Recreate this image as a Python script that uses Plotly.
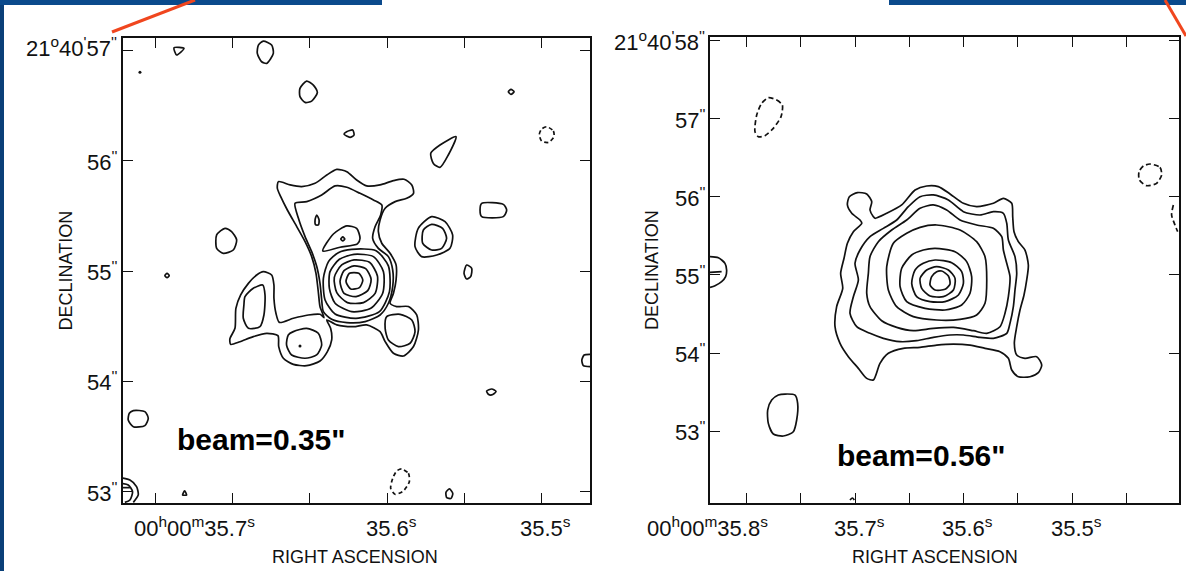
import plotly.graph_objects as go

W, H = 1186, 571

# ---------------- ticks / labels ----------------
L_RA_TICKS = [35.75, 35.70, 35.65, 35.60, 35.55, 35.50]
L_DEC_TICKS = [53, 54, 55, 56, 57]
R_RA_TICKS = [35.80, 35.75, 35.70, 35.65, 35.60, 35.55, 35.50, 35.45]
R_DEC_TICKS = [53, 54, 55, 56, 57, 58]

L_RA_LABEL_POS = [35.7, 35.6, 35.5]
L_RA_LABEL_TXT = ["00<sup>h</sup>00<sup>m</sup>35.7<sup>s</sup>", "35.6<sup>s</sup>", "35.5<sup>s</sup>"]
R_RA_LABEL_POS = [35.8, 35.7, 35.6, 35.5]
R_RA_LABEL_TXT = ["00<sup>h</sup>00<sup>m</sup>35.8<sup>s</sup>", "35.7<sup>s</sup>", "35.6<sup>s</sup>", "35.5<sup>s</sup>"]
L_DEC_LABEL_POS = [57, 56, 55, 54, 53]
L_DEC_LABEL_TXT = ["21<sup>o</sup>40<sup>'</sup>57<sup>''</sup>", "56<sup>''</sup>", "55<sup>''</sup>", "54<sup>''</sup>", "53<sup>''</sup>"]
R_DEC_LABEL_POS = [58, 57, 56, 55, 54, 53]
R_DEC_LABEL_TXT = ["21<sup>o</sup>40<sup>'</sup>58<sup>''</sup>", "57<sup>''</sup>", "56<sup>''</sup>", "55<sup>''</sup>", "54<sup>''</sup>", "53<sup>''</sup>"]

# ---------------- left map contours (RA s, Dec arcsec) ----------------
L_tri = [(35.7383, 57.021), (35.7318, 57.015), (35.7366, 56.955), (35.7383, 57.021)]
L_dot = [(35.7604, 56.798)]
L_o1 = [(35.6803, 57.081), (35.6749, 57.045), (35.6738, 56.970), (35.6781, 56.879), (35.6814, 56.894),
        (35.6842, 56.970), (35.6835, 57.045), (35.6803, 57.081)]
L_o2 = [(35.6522, 56.719), (35.6478, 56.683), (35.6452, 56.617), (35.6489, 56.538), (35.6532, 56.526),
        (35.6565, 56.578), (35.6565, 56.653), (35.6522, 56.719)]
L_o3 = [(35.6262, 56.261), (35.6223, 56.276), (35.6214, 56.231), (35.6240, 56.210), (35.6279, 56.238), (35.6262, 56.261)]
L_drop = [(35.5552, 56.216), (35.5656, 56.140), (35.5716, 56.065), (35.5699, 55.974), (35.5656, 55.938),
          (35.5602, 56.050), (35.5552, 56.216)]
L_tiny1 = [(35.5212, 56.623), (35.5195, 56.644), (35.5175, 56.623), (35.5195, 56.599), (35.5212, 56.623)]
L_o4 = [(35.4963, 56.306), (35.4920, 56.267), (35.4916, 56.216), (35.4952, 56.164), (35.4996, 56.176),
        (35.5011, 56.237), (35.4996, 56.285), (35.4963, 56.306)]
L_rect = [(35.5385, 55.612), (35.5245, 55.603), (35.5223, 55.552), (35.5245, 55.492), (35.5385, 55.492),
          (35.5396, 55.552), (35.5385, 55.612)]
L_ring_out = [(35.5710, 55.492), (35.5623, 55.446), (35.5574, 55.326), (35.5591, 55.205), (35.5677, 55.145),
              (35.5775, 55.130), (35.5818, 55.220), (35.5797, 55.386), (35.5710, 55.492)]
L_ring_in = [(35.5710, 55.422), (35.5639, 55.386), (35.5613, 55.296), (35.5645, 55.205), (35.5710, 55.190),
             (35.5768, 55.250), (35.5764, 55.371), (35.5710, 55.422)]
L_o5 = [(35.7052, 55.386), (35.7009, 55.356), (35.6976, 55.281), (35.6998, 55.190), (35.7063, 55.160),
        (35.7106, 55.205), (35.7106, 55.326), (35.7052, 55.386)]
L_o6 = [(35.5483, 55.054), (35.5450, 55.024), (35.5457, 54.949), (35.5483, 54.928), (35.5500, 54.979), (35.5483, 55.054)]
L_tiny2 = [(35.7442, 54.958), (35.7428, 54.979), (35.7414, 54.958), (35.7428, 54.940), (35.7442, 54.958)]

L_outer = [
    (35.6705, 55.809), (35.6629, 55.779), (35.6554, 55.764), (35.6467, 55.794), (35.6391, 55.869),
    (35.6326, 55.920), (35.6261, 55.899), (35.6197, 55.824), (35.6132, 55.770), (35.6045, 55.779),
    (35.5958, 55.818), (35.5889, 55.830), (35.5839, 55.779), (35.5828, 55.703), (35.5872, 55.658),
    (35.5947, 55.628), (35.6012, 55.568), (35.6045, 55.462), (35.6056, 55.356), (35.6034, 55.251),
    (35.5980, 55.160), (35.5941, 55.055), (35.5941, 54.919), (35.5958, 54.798), (35.5980, 54.708),
    (35.5937, 54.678), (35.5861, 54.678), (35.5807, 54.602), (35.5796, 54.466), (35.5828, 54.316),
    (35.5893, 54.231), (35.5958, 54.255), (35.6012, 54.361), (35.6045, 54.451), (35.6132, 54.512),
    (35.6218, 54.496), (35.6326, 54.512), (35.6391, 54.557),
    (35.6366, 54.481), (35.6359, 54.376), (35.6387, 54.270), (35.6435, 54.185), (35.6522, 54.143),
    (35.6608, 54.155), (35.6673, 54.210), (35.6703, 54.315), (35.6708, 54.415), (35.6781, 54.436),
    (35.6868, 54.406), (35.6955, 54.360), (35.7015, 54.336), (35.7020, 54.385), (35.6987, 54.481),
    (35.6981, 54.662), (35.6950, 54.783), (35.6900, 54.888), (35.6846, 54.964), (35.6803, 54.994),
    (35.6749, 54.964), (35.6734, 54.873), (35.6734, 54.753), (35.6721, 54.617), (35.6699, 54.535),
    (35.6608, 54.572), (35.6511, 54.602), (35.6435, 54.608), (35.6409, 54.578),
    (35.6435, 54.678), (35.6445, 54.798), (35.6461, 54.979), (35.6489, 55.130), (35.6532, 55.266),
    (35.6586, 55.402), (35.6647, 55.552), (35.6690, 55.673), (35.6712, 55.749), (35.6705, 55.809)]
L_inner = [
    (35.6597, 55.613), (35.6521, 55.628), (35.6424, 55.688), (35.6337, 55.770), (35.6261, 55.758),
    (35.6175, 55.703), (35.6088, 55.643), (35.6034, 55.598), (35.6041, 55.507), (35.6077, 55.402),
    (35.6093, 55.296), (35.6056, 55.205), (35.5991, 55.130), (35.5963, 55.009), (35.5963, 54.859),
    (35.5991, 54.708), (35.6045, 54.602), (35.6142, 54.542), (35.6261, 54.533), (35.6359, 54.563),
    (35.6413, 54.632), (35.6424, 54.738), (35.6435, 54.889), (35.6456, 55.040), (35.6489, 55.175),
    (35.6532, 55.311), (35.6575, 55.477), (35.6597, 55.613)]
L_tri2 = [(35.6417, 55.181), (35.6348, 55.335), (35.6261, 55.408), (35.6197, 55.386), (35.6175, 55.296),
          (35.6192, 55.245), (35.6305, 55.215), (35.6417, 55.181)]
L_tri2_in = [(35.6300, 55.290), (35.6287, 55.308), (35.6274, 55.290), (35.6287, 55.272), (35.6300, 55.290)]
L_tear = [(35.6456, 55.507), (35.6441, 55.462), (35.6445, 55.417), (35.6463, 55.417), (35.6467, 55.462), (35.6456, 55.507)]
L_pk1 = [(35.6244, 54.979), (35.6183, 54.979), (35.6157, 54.919), (35.6179, 54.850), (35.6235, 54.837),
         (35.6266, 54.904), (35.6244, 54.979)]
L_pk2 = [(35.6214, 55.046), (35.6138, 55.021), (35.6103, 54.925), (35.6125, 54.822), (35.6201, 54.768),
         (35.6279, 54.798), (35.6305, 54.904), (35.6279, 55.003), (35.6214, 55.046)]
L_pk3 = [(35.6214, 55.100), (35.6114, 55.079), (35.6062, 54.955), (35.6077, 54.798), (35.6153, 54.714),
         (35.6257, 54.714), (35.6326, 54.804), (35.6342, 54.943), (35.6294, 55.055), (35.6214, 55.100)]
L_pk4 = [(35.6214, 55.151), (35.6088, 55.130), (35.6023, 54.994), (35.6028, 54.798), (35.6105, 54.662),
         (35.6229, 54.632), (35.6337, 54.708), (35.6374, 54.843), (35.6370, 54.994), (35.6309, 55.106),
         (35.6214, 55.151)]
L_pk5 = [(35.6229, 55.196), (35.6071, 55.184), (35.5991, 55.046), (35.5984, 54.813), (35.6049, 54.632),
         (35.6201, 54.572), (35.6337, 54.611), (35.6402, 54.738), (35.6413, 54.934), (35.6380, 55.085),
         (35.6316, 55.166), (35.6229, 55.196)]
L_low_mid = [(35.6608, 54.451), (35.6522, 54.481), (35.6446, 54.436), (35.6424, 54.330), (35.6457, 54.240),
             (35.6532, 54.210), (35.6619, 54.240), (35.6652, 54.330), (35.6641, 54.421), (35.6608, 54.451)]
L_low_dot = [(35.6565, 54.321)]
L_left_in = [(35.6922, 54.768), (35.6868, 54.843), (35.6807, 54.873), (35.6792, 54.783), (35.6799, 54.602),
             (35.6825, 54.496), (35.6900, 54.481), (35.6933, 54.572), (35.6929, 54.692), (35.6922, 54.768)]
L_low_right = [(35.6002, 54.587), (35.5915, 54.608), (35.5839, 54.557), (35.5818, 54.451), (35.5850, 54.346),
               (35.5926, 54.316), (35.5991, 54.376), (35.6012, 54.481), (35.6002, 54.587)]
L_edgeC = [(35.4681, 54.246), (35.4720, 54.240), (35.4735, 54.194), (35.4725, 54.143), (35.4681, 54.134)]
L_o7 = [(35.7647, 53.736), (35.7572, 53.727), (35.7550, 53.667), (35.7572, 53.600), (35.7647, 53.591),
        (35.7680, 53.651), (35.7673, 53.712), (35.7647, 53.736)]
L_arc1 = [(35.7734, 53.129), (35.7669, 53.108), (35.7626, 53.048), (35.7615, 52.973), (35.7647, 52.906)]
L_arc2 = [(35.7734, 53.078), (35.7680, 53.063), (35.7652, 53.003), (35.7669, 52.927), (35.7702, 52.906)]
L_seg = [(35.7734, 53.039), (35.7669, 53.039)]
L_tiny3 = [(35.7327, 52.973), (35.7314, 53.009), (35.7301, 52.973), (35.7327, 52.973)]
L_dash1 = [(35.5905, 53.208), (35.5861, 53.169), (35.5855, 53.093), (35.5894, 53.009), (35.5948, 52.979),
           (35.5976, 53.033), (35.5963, 53.123), (35.5937, 53.190), (35.5905, 53.208)]
L_o8 = [(35.5595, 53.027), (35.5573, 52.988), (35.5584, 52.942), (35.5612, 52.948), (35.5617, 52.997), (35.5595, 53.027)]
L_o9 = [(35.5353, 53.914), (35.5320, 53.932), (35.5292, 53.908), (35.5320, 53.878), (35.5342, 53.884), (35.5353, 53.914)]

L_SOLID = [L_tri, L_o1, L_o2, L_o3, L_drop, L_tiny1, L_rect, L_ring_out, L_ring_in, L_o5, L_o6, L_tiny2,
           L_outer, L_inner, L_tri2, L_tri2_in, L_tear, L_pk1, L_pk2, L_pk3, L_pk4, L_pk5, L_low_mid,
           L_left_in, L_low_right, L_edgeC, L_o7, L_arc1, L_arc2, L_seg, L_tiny3, L_o8, L_o9]
L_DASHED = [L_o4, L_dash1]
L_DOTS = [L_dot, L_low_dot]

# ---------------- right map contours ----------------
R_dash1 = [(35.7798, 57.273), (35.7721, 57.243), (35.7669, 57.179), (35.7681, 57.030), (35.7752, 56.880),
           (35.7829, 56.786), (35.7890, 56.773), (35.7921, 56.838), (35.7905, 57.051), (35.7859, 57.201),
           (35.7798, 57.273)]
R_dash2 = [(35.4284, 56.423), (35.4192, 56.380), (35.4177, 56.282), (35.4223, 56.175), (35.4315, 56.145),
           (35.4382, 56.218), (35.4385, 56.325), (35.4345, 56.397), (35.4284, 56.423)]
R_dash3 = [(35.4069, 55.897), (35.4085, 55.769), (35.4054, 55.641), (35.4029, 55.555)]
R_edge = [(35.8335, 55.235), (35.8258, 55.222), (35.8197, 55.149), (35.8182, 55.064), (35.8191, 54.978),
          (35.8228, 54.914), (35.8289, 54.863), (35.8335, 54.841)]
R_edge_seg = [(35.8335, 55.034), (35.8228, 55.042)]
R_oval = [(35.7644, 53.474), (35.7552, 53.461), (35.7528, 53.354), (35.7537, 53.141), (35.7568, 52.991),
          (35.7660, 52.936), (35.7752, 52.961), (35.7798, 53.098), (35.7804, 53.269), (35.7767, 53.397),
          (35.7706, 53.461), (35.7644, 53.474)]
R_tiny = [(35.7046, 52.115), (35.7024, 52.141), (35.7006, 52.115)]
R_c1 = [
    (35.6831, 55.748), (35.6862, 55.833), (35.6846, 55.940), (35.6892, 56.039), (35.6978, 56.056),
    (35.7052, 56.004), (35.7070, 55.898), (35.7030, 55.791), (35.6954, 55.705), (35.6938, 55.663),
    (35.7015, 55.555), (35.7070, 55.406), (35.7101, 55.214), (35.7132, 55.021), (35.7113, 54.829),
    (35.7169, 54.594), (35.7184, 54.337), (35.7138, 54.124), (35.7061, 53.953), (35.6969, 53.803),
    (35.6892, 53.675), (35.6831, 53.654), (35.6770, 53.867), (35.6693, 53.996), (35.6555, 54.060),
    (35.6401, 54.072), (35.6248, 54.102), (35.6094, 54.115), (35.5941, 54.102), (35.5803, 54.060),
    (35.5665, 54.017), (35.5588, 53.932), (35.5557, 53.782), (35.5496, 53.696), (35.5389, 53.696),
    (35.5312, 53.748), (35.5281, 53.846), (35.5327, 53.953), (35.5435, 53.932), (35.5511, 53.974),
    (35.5533, 54.124), (35.5511, 54.337), (35.5481, 54.551), (35.5444, 54.744), (35.5419, 54.936),
    (35.5404, 55.128), (35.5435, 55.320), (35.5496, 55.427), (35.5536, 55.555), (35.5548, 55.748),
    (35.5557, 55.919), (35.5634, 55.983), (35.5726, 55.919), (35.5880, 55.876), (35.6002, 55.919),
    (35.6125, 56.039), (35.6233, 56.133), (35.6340, 56.141), (35.6447, 56.090), (35.6570, 55.898),
    (35.6708, 55.791), (35.6816, 55.727), (35.6831, 55.748)]
R_c2 = [
    (35.6279, 56.026), (35.6140, 55.962), (35.6002, 55.812), (35.5849, 55.769), (35.5726, 55.812),
    (35.5634, 55.791), (35.5603, 55.663), (35.5588, 55.449), (35.5527, 55.235), (35.5511, 55.021),
    (35.5527, 54.808), (35.5542, 54.594), (35.5573, 54.380), (35.5603, 54.252), (35.5726, 54.188),
    (35.5849, 54.201), (35.6002, 54.231), (35.6125, 54.231), (35.6279, 54.201), (35.6432, 54.158),
    (35.6585, 54.145), (35.6739, 54.188), (35.6862, 54.252), (35.6984, 54.337), (35.7046, 54.509),
    (35.7015, 54.722), (35.6969, 54.936), (35.7000, 55.150), (35.6954, 55.320), (35.6862, 55.491),
    (35.6739, 55.598), (35.6616, 55.705), (35.6509, 55.876), (35.6401, 56.004), (35.6279, 56.026)]
R_c3 = [
    (35.6279, 55.898), (35.6156, 55.833), (35.6033, 55.705), (35.5880, 55.641), (35.5726, 55.598),
    (35.5649, 55.491), (35.5634, 55.320), (35.5603, 55.150), (35.5573, 54.979), (35.5588, 54.722),
    (35.5619, 54.509), (35.5665, 54.337), (35.5787, 54.252), (35.5910, 54.286), (35.6094, 54.329),
    (35.6279, 54.316), (35.6463, 54.286), (35.6616, 54.329), (35.6754, 54.414), (35.6862, 54.594),
    (35.6892, 54.765), (35.6877, 55.021), (35.6862, 55.235), (35.6785, 55.427), (35.6662, 55.577),
    (35.6524, 55.705), (35.6401, 55.855), (35.6279, 55.898)]
R_c4 = [
    (35.6248, 55.641), (35.6033, 55.577), (35.5880, 55.427), (35.5803, 55.235), (35.5787, 54.936),
    (35.5803, 54.637), (35.5880, 54.487), (35.6033, 54.431), (35.6248, 54.423), (35.6463, 54.466),
    (35.6616, 54.594), (35.6693, 54.808), (35.6708, 55.107), (35.6647, 55.406), (35.6524, 55.534),
    (35.6401, 55.611), (35.6248, 55.641)]
R_c5 = [
    (35.6263, 55.342), (35.6079, 55.299), (35.5972, 55.171), (35.5926, 54.979), (35.5941, 54.765),
    (35.6018, 54.615), (35.6171, 54.551), (35.6355, 54.573), (35.6524, 54.658), (35.6585, 54.850),
    (35.6570, 55.086), (35.6478, 55.256), (35.6371, 55.320), (35.6263, 55.342)]
R_c6 = [
    (35.6263, 55.192), (35.6110, 55.158), (35.6018, 55.043), (35.6002, 54.893), (35.6048, 54.744),
    (35.6171, 54.658), (35.6309, 54.658), (35.6432, 54.722), (35.6478, 54.893), (35.6447, 55.064),
    (35.6371, 55.150), (35.6263, 55.192)]
R_c7 = [
    (35.6248, 55.107), (35.6140, 55.064), (35.6079, 54.957), (35.6094, 54.808), (35.6187, 54.722),
    (35.6309, 54.731), (35.6386, 54.829), (35.6401, 54.957), (35.6340, 55.064), (35.6248, 55.107)]
R_c8 = [
    (35.6202, 55.051), (35.6140, 54.987), (35.6125, 54.885), (35.6171, 54.816), (35.6263, 54.808),
    (35.6309, 54.872), (35.6294, 54.979), (35.6248, 55.043), (35.6202, 55.051)]

R_SOLID = [R_edge, R_edge_seg, R_oval, R_tiny, R_c1, R_c2, R_c3, R_c4, R_c5, R_c6, R_c7, R_c8]
R_DASHED = [R_dash1, R_dash2, R_dash3]

# ---------------- figure ----------------
fig = go.Figure()
INK = "#111111"


def add_lines(groups, xa, ya, dash):
    for pts in groups:
        fig.add_trace(go.Scatter(
            x=[p[0] for p in pts], y=[p[1] for p in pts], mode="lines",
            line=dict(color=INK, width=1.7, dash=dash, shape="spline", smoothing=0.7),
            xaxis=xa, yaxis=ya, hoverinfo="skip", showlegend=False))


add_lines(L_SOLID, "x", "y", "solid")
add_lines(L_DASHED, "x", "y", "4px,3px")
add_lines(R_SOLID, "x2", "y2", "solid")
add_lines(R_DASHED, "x2", "y2", "5px,3px")
for pts in L_DOTS:
    fig.add_trace(go.Scatter(x=[p[0] for p in pts], y=[p[1] for p in pts], mode="markers",
                             marker=dict(color=INK, size=3), xaxis="x", yaxis="y",
                             hoverinfo="skip", showlegend=False))

axis_common = dict(ticks="inside", ticklen=10, tickwidth=1.3, tickcolor=INK, showline=True,
                   linecolor=INK, linewidth=1.7, mirror="allticks", showgrid=False, zeroline=False,
                   showticklabels=False, fixedrange=True)

fig.update_layout(
    width=W, height=H, margin=dict(l=0, r=0, t=0, b=0),
    paper_bgcolor="white", plot_bgcolor="white",
    xaxis=dict(domain=[123 / W, 590 / W], range=[35.7714, 35.4682], tickvals=L_RA_TICKS, anchor="y", **axis_common),
    yaxis=dict(domain=[1 - 503 / H, 1 - 38 / H], range=[52.900, 57.109], tickvals=L_DEC_TICKS, anchor="x", **axis_common),
    xaxis2=dict(domain=[710 / W, 1179 / W], range=[35.8335, 35.4017], tickvals=R_RA_TICKS, anchor="y2", **axis_common),
    yaxis2=dict(domain=[1 - 503 / H, 1 - 37 / H], range=[52.077, 58.051], tickvals=R_DEC_TICKS, anchor="x2", **axis_common),
)

TICKFONT = dict(family="Liberation Sans Narrow, Liberation Sans, Arial, sans-serif", size=22, color=INK)
TITLEFONT = dict(family="Liberation Sans Narrow, Liberation Sans, Arial, sans-serif", size=18, color=INK)
BEAMFONT = dict(family="Liberation Sans, Arial, sans-serif", size=30, color="black")

ann = []
for v, t in zip(L_DEC_LABEL_POS, L_DEC_LABEL_TXT):
    ann.append(dict(x=0, xref="x domain", y=v, yref="y", text=t, showarrow=False, xanchor="right",
                    yanchor="middle", xshift=-4, yshift=3 if v == 57 else 0, font=TICKFONT))
for v, t in zip(R_DEC_LABEL_POS, R_DEC_LABEL_TXT):
    ann.append(dict(x=0, xref="x2 domain", y=v, yref="y2", text=t, showarrow=False, xanchor="right",
                    yanchor="middle", xshift=-3, font=TICKFONT))
for v, t in zip(L_RA_LABEL_POS, L_RA_LABEL_TXT):
    long = t.startswith("00")
    ann.append(dict(x=v, xref="x", y=0, yref="y domain", text=t, showarrow=False,
                    xanchor="right" if long else "center", xshift=24 if long else 4,
                    yanchor="top", yshift=-8, font=TICKFONT))
for v, t in zip(R_RA_LABEL_POS, R_RA_LABEL_TXT):
    long = t.startswith("00")
    ann.append(dict(x=v, xref="x2", y=0, yref="y2 domain", text=t, showarrow=False,
                    xanchor="right" if long else "center", xshift=24 if long else 4,
                    yanchor="top", yshift=-8, font=TICKFONT))

ann += [
    dict(x=0, xref="x domain", y=0.5, yref="y domain", text="DECLINATION", textangle=-90, showarrow=False,
         xanchor="center", yanchor="middle", xshift=-58, font=TITLEFONT),
    dict(x=0, xref="x2 domain", y=0.5, yref="y2 domain", text="DECLINATION", textangle=-90, showarrow=False,
         xanchor="center", yanchor="middle", xshift=-58, font=TITLEFONT),
    dict(x=0.5, xref="x domain", y=0, yref="y domain", text="RIGHT ASCENSION", showarrow=False,
         xanchor="center", yanchor="middle", yshift=-54, xshift=-2, font=TITLEFONT),
    dict(x=0.5, xref="x2 domain", y=0, yref="y2 domain", text="RIGHT ASCENSION", showarrow=False,
         xanchor="center", yanchor="middle", yshift=-54, xshift=-10, font=TITLEFONT),
    dict(x=0.2966, xref="x domain", y=0.1355, yref="y domain", text="<b>beam=0.35\"</b>", showarrow=False,
         xanchor="center", yanchor="middle", font=BEAMFONT),
    dict(x=0.45, xref="x2 domain", y=0.103, yref="y2 domain", text="<b>beam=0.56\"</b>", showarrow=False,
         xanchor="center", yanchor="middle", font=BEAMFONT),
]
fig.update_layout(annotations=ann)

BLUE = "#0b4a8c"
shapes = [
    dict(type="rect", xref="paper", yref="paper", x0=0, x1=4 / W, y0=0, y1=1, fillcolor="#0a3f78", line_width=0),
    dict(type="rect", xref="paper", yref="paper", x0=0, x1=382 / W, y0=1 - 5 / H, y1=1, fillcolor=BLUE, line_width=0),
    dict(type="rect", xref="paper", yref="paper", x0=889 / W, x1=1, y0=1 - 5 / H, y1=1, fillcolor=BLUE, line_width=0),
    dict(type="line", xref="paper", yref="paper", x0=112 / W, y0=1 - 32 / H, x1=195 / W, y1=1,
         line=dict(color="#f0461e", width=3)),
    dict(type="line", xref="paper", yref="paper", x0=1165 / W, y0=1, x1=1, y1=1 - 36 / H,
         line=dict(color="#f0461e", width=3)),
]
fig.update_layout(shapes=shapes)

fig.write_html("out.html")
